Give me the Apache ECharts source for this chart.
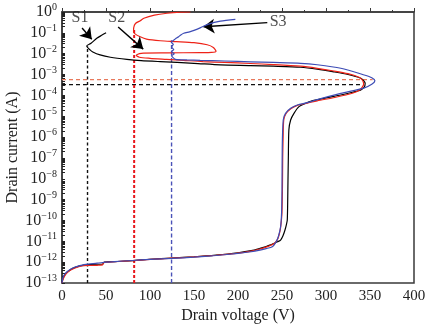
<!DOCTYPE html>
<html><head><meta charset="utf-8">
<script src="https://cdn.jsdelivr.net/npm/echarts@6/dist/echarts.min.js"></script>
<style>html,body{margin:0;padding:0;background:#fff}#c{width:436px;height:330px}</style>
</head><body><div id="c"></div>
<script>
// Each point: [drain voltage (V), log10 of drain current (A)]
const blackCurve = [[0,-13],[1,-12.8],[3,-12.62],[6,-12.48],[10,-12.35],[15,-12.25],[20,-12.18],[25,-12.14],[30,-12.12],[40,-12.1],[46,-12.1],[48,-12.0],[60,-11.97],[80,-11.93],[100,-11.86],[125,-11.8],[150,-11.74],[175,-11.66],[200,-11.55],[215,-11.45],[225,-11.34],[232,-11.25],[238,-11.15],[242,-11.08],[245,-11.02],[248.4,-10.94],[251,-10.75],[253.4,-10.46],[255,-10.2],[256,-9.98],[256.5,-9.0],[256.8,-8.06],[257.2,-7.0],[257.8,-5.66],[259.8,-5.18],[263.6,-4.86],[269.3,-4.54],[277,-4.38],[282.6,-4.28],[300,-4.12],[316.8,-3.98],[330,-3.85],[339.6,-3.74],[343.5,-3.6],[344.5,-3.42],[343,-3.3],[339.6,-3.18],[325,-3.0],[308.8,-2.87],[290,-2.74],[271,-2.65],[240,-2.6],[214,-2.57],[180,-2.54],[150,-2.46],[111.7,-2.38],[90,-2.33],[73.7,-2.27],[55,-2.17],[43.3,-2.06],[35,-1.92],[31.9,-1.82],[28.1,-1.63],[33,-1.5],[39.5,-1.26],[45,-1.12],[50.1,-1.0]];
const redCurve = [[0,-13],[1,-12.85],[3,-12.66],[6,-12.5],[10,-12.38],[15,-12.28],[20,-12.21],[25,-12.17],[30,-12.16],[40,-12.15],[46,-12.13],[47.5,-12.02],[60,-11.98],[80,-11.93],[100,-11.87],[125,-11.81],[150,-11.75],[175,-11.67],[200,-11.57],[215,-11.47],[225,-11.37],[232,-11.28],[238,-11.18],[242,-11.08],[245.5,-10.85],[248,-10.45],[249.3,-10.0],[250,-9.6],[250.5,-8.5],[250.8,-7.0],[251.3,-6.0],[252,-5.18],[254.5,-4.88],[260,-4.64],[267.5,-4.48],[279,-4.37],[290,-4.26],[310,-4.1],[330,-3.9],[339,-3.72],[342.8,-3.45],[341,-3.25],[337,-3.12],[325,-2.96],[309,-2.83],[290,-2.7],[271,-2.6],[240,-2.52],[214,-2.47],[185,-2.42],[160,-2.38],[138,-2.32],[119,-2.27],[100,-2.22],[88,-2.17],[84.3,-2.08],[88,-2.0],[92.6,-1.97],[119,-1.96],[157,-1.95],[170,-1.94],[175,-1.88],[172,-1.7],[165,-1.57],[150,-1.47],[130,-1.42],[111.7,-1.38],[96,-1.3],[88.9,-1.19],[83,-1.05],[81.3,-0.95],[81.5,-0.75],[83.5,-0.55],[89,-0.42],[93,-0.3],[105,-0.15],[119.3,-0.06],[135,-0.01],[146,0]];
const blueCurve = [[0,-13],[1,-12.75],[3,-12.58],[6,-12.45],[10,-12.33],[15,-12.23],[20,-12.17],[25,-12.12],[30,-12.09],[40,-12.05],[50,-12.0],[60,-11.97],[80,-11.92],[100,-11.87],[125,-11.82],[150,-11.76],[175,-11.68],[200,-11.58],[215,-11.5],[225,-11.42],[232,-11.35],[239,-11.26],[243,-11.05],[245.8,-10.78],[248.4,-10.3],[249.5,-9.66],[250,-8.5],[250.3,-6.46],[251.4,-5.18],[254,-4.86],[259.8,-4.62],[267.4,-4.46],[278.8,-4.35],[290,-4.2],[316.8,-3.9],[343,-3.65],[352,-3.47],[355.6,-3.3],[352,-3.15],[343.4,-3.02],[316.8,-2.7],[290,-2.53],[271.2,-2.46],[240,-2.42],[214.2,-2.39],[185,-2.35],[157,-2.32],[142,-2.3],[129,-2.27],[126.5,-2.2],[124.5,-2.1],[127.5,-2.0],[124.3,-1.9],[127,-1.8],[124.5,-1.68],[126.5,-1.55],[124.2,-1.45],[127,-1.35],[129,-1.28],[132.5,-1.19],[135,-1.1],[138.3,-1.02],[145,-0.95],[150,-0.88],[157,-0.76],[166.7,-0.58],[180,-0.44],[197,-0.35]];

// Guide lines (dashed)
const s1Vertical = [[29,-13],[29,-1.63]];
const s2Vertical = [[82,-13],[82,-0.85]];
const s3Vertical = [[124.5,-13],[124.5,-1.35]];
const blackHorizontal = [[0,-3.48],[341.4,-3.48]];
const orangeHorizontal = [[0,-3.24],[353,-3.24]];

// Annotations
const annotNames = ['S1','S2','S3'];
const annotTextPos = [[20.5,-0.29],[62.3,-0.29],[245.6,-0.48]];
const annotArrowFrom = [[22.8,-0.77],[63.8,-0.72],[233.3,-0.51]];
const annotArrowTo = [[33.8,-1.31],[92.3,-1.78],[160.7,-0.71]];

const xTickValues = [0,50,100,150,200,250,300,350,400];
const yExponents = [-13,-12,-11,-10,-9,-8,-7,-6,-5,-4,-3,-2,-1,0];

const FONT = 'Liberation Serif';
const minorTicks = [];
for (let e = yExponents[0]; e < 0; e++) { for (let k = 1; k <= 9; k++) minorTicks.push(e + Math.log10(k)); }
minorTicks.push(0);

function curve(data, color, z) {
  return { type: 'line', data, smooth: 0.25, symbol: 'none', z, lineStyle: { color, width: 1.2 }, silent: true };
}
function dashed(data, color, width, dash, z) {
  return { type: 'line', data, symbol: 'none', z, lineStyle: { color, width, type: dash }, silent: true };
}

const chart = echarts.init(document.getElementById('c'));
chart.setOption({
  animation: false,
  backgroundColor: '#fff',
  grid: { left: 62, right: 22, top: 12, bottom: 47, containLabel: false, outerBoundsMode: 'none', show: true, borderColor: '#3a3a3a', borderWidth: 1.5 },
  xAxis: {
    type: 'value', min: 0, max: 400, interval: 50,
    name: 'Drain voltage (V)', nameLocation: 'middle', nameGap: 25, nameMoveOverlap: false,
    nameTextStyle: { fontFamily: FONT, fontSize: 16, color: '#222' },
    axisLine: { lineStyle: { color: '#3a3a3a', width: 1.5 } },
    axisTick: { inside: true, length: 4, lineStyle: { color: '#3a3a3a' } },
    minorTick: { show: true, splitNumber: 2, length: 2, lineStyle: { color: '#3a3a3a' } },
    axisLabel: { fontFamily: FONT, fontSize: 15, color: '#222', margin: 6 },
    splitLine: { show: false }
  },
  yAxis: {
    type: 'value', min: -13, max: 0, interval: 1,
    name: 'Drain current (A)', nameLocation: 'middle', nameGap: 41, nameMoveOverlap: false,
    nameTextStyle: { fontFamily: FONT, fontSize: 16, color: '#222' },
    axisLine: { lineStyle: { color: '#3a3a3a', width: 1.5 } },
    axisTick: { inside: true, length: 3, customValues: minorTicks, lineStyle: { color: '#222' } },
    axisLabel: {
      fontFamily: FONT, color: '#222', margin: 5,
      formatter: v => { const e = Math.round(v); return '{b|10}{s|' + (e < 0 ? '\u2212' + (-e) : e) + '}'; },
      rich: {
        b: { fontFamily: FONT, fontSize: 16, color: '#222' },
        s: { fontFamily: FONT, fontSize: 10, color: '#222', padding: [0, 0, 9, 0] }
      }
    },
    splitLine: { show: false }
  },
  series: [
    dashed(blackHorizontal, '#111', 1.2, [4, 3], 2),
    dashed(orangeHorizontal, '#e8795c', 1.2, [4, 3], 2),
    dashed(s1Vertical, '#111', 1.4, [3, 2.5], 2),
    dashed(s2Vertical, '#e8161b', 2, [3, 2], 2),
    dashed(s3Vertical, '#4a52b8', 1.4, [4, 2.5], 2),
    curve(blackCurve, '#000000', 3),
    curve(redCurve, '#ee2318', 4),
    curve(blueCurve, '#3d4cb5', 5),
    {
      type: 'scatter', symbolSize: 0, silent: true, z: 6,
      data: annotTextPos.map((p, i) => ({ value: p, name: annotNames[i] })),
      label: { show: true, position: 'inside', formatter: '{b}', fontFamily: FONT, fontSize: 16, color: '#222' },
      markLine: {
        silent: true, symbol: ['none', 'arrow'], symbolSize: 11, animation: false,
        label: { show: false },
        lineStyle: { color: '#000', width: 1.4, type: 'solid' },
        data: annotArrowFrom.map((f, i) => [{ coord: f }, { coord: annotArrowTo[i] }])
      }
    }
  ]
});
</script></body></html>
